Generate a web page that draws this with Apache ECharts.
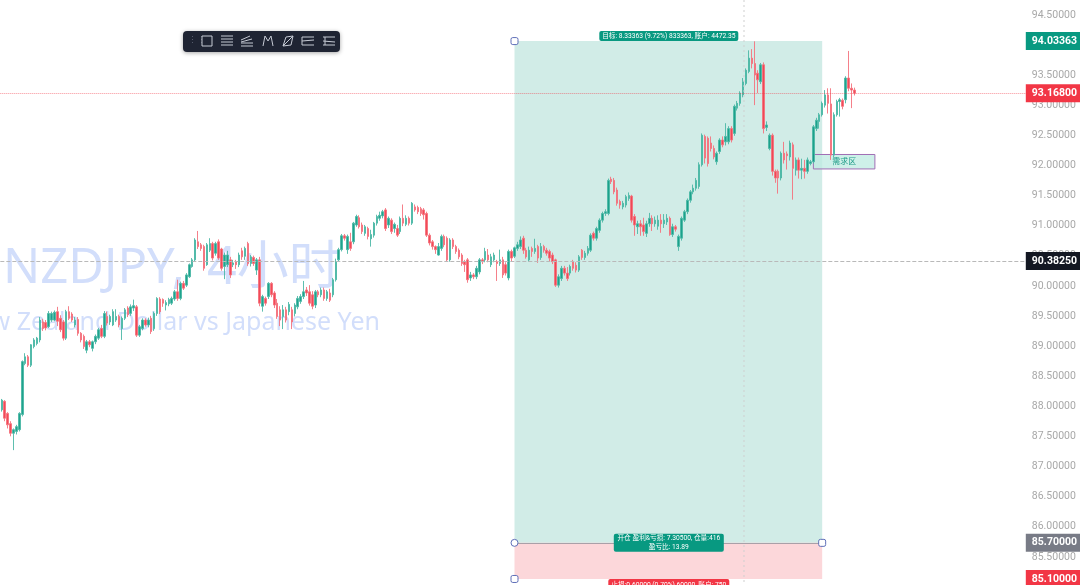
<!DOCTYPE html>
<html><head><meta charset="utf-8">
<style>html,body{margin:0;padding:0;background:#fff}#c{width:1080px;height:585px}</style>
<script src="https://cdn.jsdelivr.net/npm/echarts@6/dist/echarts.min.js"></script>
</head><body><div id="c"></div>
<script>
const opens=[87.91,88.05,87.85,87.68,87.52,87.55,87.58,87.83,88.68,88.79,88.65,88.96,89.01,89.07,89.37,89.36,89.29,89.4,89.4,89.54,89.43,89.37,89.1,89.54,89.5,89.32,89.41,89.18,89.13,88.9,89.04,88.93,89.04,89.1,89.26,89.13,89.46,89.37,89.32,89.4,89.46,89.26,89.43,89.6,89.51,89.6,89.62,89.15,89.26,89.4,89.32,89.43,89.26,89.51,89.75,89.74,89.65,89.67,89.68,89.75,89.87,89.76,90.01,89.98,90.12,90.29,90.4,90.7,90.65,90.62,90.32,90.56,90.67,90.51,90.7,90.58,90.29,90.32,90.4,90.32,90.37,90.32,90.55,90.46,90.67,90.34,90.44,90.23,90.4,
89.63,89.76,89.79,90.01,89.85,89.68,89.57,89.46,89.57,89.54,89.57,89.51,89.62,89.71,89.79,89.9,89.87,89.82,89.65,89.87,89.82,89.9,89.76,89.85,89.82,90.07,90.4,90.57,90.8,90.57,90.7,90.7,90.98,91.1,90.98,90.84,90.92,90.75,90.81,91.01,91.09,91.13,91.23,
90.98,91.06,90.92,90.92,90.87,91.09,90.99,91.09,91.01,91.28,91.27,91.25,91.23,91.17,90.81,90.7,90.62,90.48,90.59,90.79,90.76,90.4,90.73,90.62,90.56,90.48,90.37,90.4,90.1,90.15,90.12,90.2,90.4,90.4,90.48,90.32,90.4,90.37,90.34,90.4,90.32,90.1,90.54,90.46,
90.59,90.62,90.76,90.56,90.4,90.59,90.54,90.62,90.44,90.62,90.56,90.54,90.48,90.4,89.98,90.09,90.26,90.18,90.18,90.37,90.31,90.23,90.56,90.44,90.51,90.56,90.84,90.76,90.89,91.06,91.17,91.17,91.74,91.72,91.56,91.37,91.28,91.31,91.42,91.46,91.12,90.95,91.0,90.98,90.84,91.0,91.09,91.0,90.96,91.06,91.0,91.03,91.09,90.82,90.95,90.62,90.76,91.06,91.2,91.39,91.53,91.59,
91.62,91.98,92.45,92.42,92.34,92.25,92.03,92.2,92.39,92.36,92.36,92.58,92.5,92.92,93.0,93.14,93.33,93.53,93.75,93.66,93.5,93.36,93.64,92.6,92.25,92.47,91.87,91.87,91.76,92.17,92.16,92.11,92.31,91.89,92.06,91.89,91.92,91.87,92.0,92.03,
92.58,92.7,92.81,92.97,93.14,92.99,92.14,92.81,93.03,93.05,93.06,93.42,93.25,93.22];
const closes=[88.07,87.77,87.66,87.52,87.58,87.63,87.85,88.71,88.79,88.65,88.99,89.07,89.1,89.4,89.26,89.27,89.51,89.51,89.53,89.38,89.24,89.1,89.54,89.43,89.4,89.4,89.18,89.07,88.96,89.04,88.99,89.04,89.13,89.24,89.13,89.51,89.35,89.46,89.54,89.46,89.32,89.43,89.57,89.49,89.62,89.64,89.15,89.29,89.4,89.32,89.4,89.21,89.51,89.76,89.54,89.68,89.69,89.74,89.76,89.87,89.76,90.01,89.93,90.15,90.32,90.4,90.73,90.62,90.59,90.26,90.65,90.67,90.43,90.67,90.43,90.26,90.48,90.48,90.15,90.35,90.32,90.48,90.45,90.59,90.34,90.45,90.34,90.4,89.68,
89.79,89.68,90.01,89.82,89.65,89.46,89.4,89.57,89.4,89.66,89.37,89.65,89.76,89.79,89.87,89.85,89.68,89.63,89.87,89.82,89.9,89.76,89.87,89.73,90.07,90.37,90.57,90.8,90.76,90.79,90.59,91.01,91.12,90.95,90.87,90.95,90.79,90.82,91.01,91.12,91.14,91.2,90.92,
91.09,90.87,90.99,90.81,91.09,91.01,91.09,91.01,91.34,91.23,91.2,91.17,91.15,90.81,90.68,90.62,90.57,90.62,90.79,90.65,90.4,90.73,90.62,90.54,90.45,90.34,90.32,90.07,90.15,90.12,90.26,90.4,90.37,90.54,90.4,90.45,90.48,90.34,90.4,90.15,90.18,90.54,90.43,90.6,
90.65,90.73,90.56,90.45,90.56,90.54,90.59,90.43,90.62,90.56,90.51,90.43,90.37,89.98,90.12,90.26,90.18,90.09,90.29,90.26,90.23,90.45,90.44,90.51,90.59,90.81,90.76,90.92,91.06,91.17,91.2,91.72,91.7,91.53,91.34,91.31,91.34,91.45,91.47,91.06,90.98,91.0,90.95,90.87,91.0,91.09,91.0,91.06,91.06,91.0,91.06,91.09,90.82,90.95,90.91,90.79,91.09,91.2,91.39,91.53,91.59,91.72,
91.98,92.47,92.09,92.0,92.25,92.11,92.17,92.39,92.31,92.45,92.58,92.39,92.95,93.0,93.17,93.36,93.55,93.75,93.66,93.47,93.39,93.64,92.58,92.64,92.47,91.87,91.76,91.76,92.17,92.06,92.13,92.34,91.92,92.06,91.89,91.92,91.87,92.06,92.03,92.61,
92.72,92.81,93.0,93.14,93.0,92.14,92.81,93.03,93.06,92.95,93.42,93.25,93.22,93.168];
const lows=[87.88,87.72,87.6,87.47,87.24,87.5,87.55,87.8,88.65,88.62,88.62,88.93,88.98,89.03,89.22,89.23,89.27,89.37,89.38,89.3,89.2,89.06,89.07,89.4,89.37,89.28,89.14,89.03,88.92,88.85,88.95,88.88,89.0,89.07,89.1,89.1,89.31,89.32,89.3,89.37,89.28,89.07,89.4,89.45,89.47,89.55,89.12,89.12,89.23,89.29,89.28,89.17,89.22,89.47,89.5,89.62,89.56,89.63,89.65,89.72,89.72,89.73,89.9,89.95,90.1,90.27,90.37,90.58,90.55,90.22,90.3,90.53,90.39,90.47,90.4,90.22,90.08,90.28,90.1,90.28,90.25,90.28,90.4,90.4,90.3,90.29,90.3,90.15,89.63,
89.54,89.64,89.75,89.78,89.6,89.42,89.3,89.25,89.36,89.48,89.25,89.46,89.58,89.67,89.75,89.8,89.64,89.58,89.6,89.78,89.78,89.72,89.72,89.7,89.78,90.04,90.37,90.54,90.72,90.5,90.55,90.66,90.95,90.92,90.83,90.8,90.74,90.62,90.77,90.97,91.05,91.09,90.88,
90.93,90.83,90.85,90.78,90.83,90.96,90.96,90.97,90.98,91.2,91.16,91.13,91.07,90.78,90.64,90.57,90.5,90.47,90.55,90.61,90.38,90.37,90.58,90.5,90.41,90.3,90.2,90.02,90.05,90.08,90.08,90.16,90.33,90.36,90.36,90.28,90.36,90.05,90.3,90.1,90.14,90.06,90.38,90.43,
90.55,90.58,90.5,90.42,90.37,90.45,90.5,90.35,90.4,90.52,90.47,90.38,90.33,89.95,89.94,90.05,90.14,90.05,90.14,90.22,90.19,90.2,90.4,90.4,90.47,90.53,90.72,90.72,90.85,91.02,91.13,91.14,91.66,91.49,91.3,91.25,91.24,91.27,91.38,91.02,90.8,90.83,90.8,90.8,90.78,90.95,90.88,90.95,90.9,90.85,90.93,90.98,90.8,90.78,90.87,90.55,90.72,91.03,91.16,91.35,91.49,91.55,
91.58,91.95,92.0,91.95,92.2,92.07,91.98,92.16,92.27,92.3,92.32,92.35,92.46,92.88,92.96,93.1,93.3,93.5,93.58,92.97,93.17,93.32,92.5,92.54,92.22,91.8,91.68,91.5,91.72,92.0,91.9,92.05,91.4,91.8,91.75,91.74,91.75,91.83,91.97,92.0,
92.54,92.58,92.78,92.93,92.83,92.06,92.1,92.78,92.78,92.9,93.0,93.2,92.92,93.13];
const highs=[88.09,88.07,87.87,87.72,87.6,87.66,87.87,88.73,88.85,88.82,89.0,89.1,89.12,89.45,89.42,89.4,89.55,89.54,89.56,89.62,89.48,89.4,89.57,89.63,89.53,89.45,89.45,89.2,89.16,89.07,89.07,89.06,89.16,89.27,89.32,89.55,89.54,89.49,89.58,89.58,89.49,89.46,89.6,89.63,89.66,89.74,89.65,89.32,89.43,89.43,89.44,89.47,89.54,89.78,89.78,89.76,89.73,89.77,89.79,89.9,90.07,90.04,90.05,90.18,90.34,90.43,90.76,90.88,90.68,90.65,90.68,90.76,90.7,90.7,90.74,90.6,90.52,90.55,90.45,90.4,90.4,90.52,90.6,90.62,90.7,90.48,90.47,90.43,90.45,
89.82,89.79,90.03,90.03,89.88,89.75,89.63,89.65,89.62,89.7,89.62,89.68,89.8,89.83,90.05,89.95,89.98,89.88,89.9,89.9,89.94,89.94,89.9,89.92,90.1,90.42,90.6,90.83,90.83,90.82,90.85,91.03,91.15,91.14,91.02,90.98,90.95,90.9,91.03,91.15,91.2,91.23,91.26,
91.12,91.09,91.02,90.98,91.12,91.32,91.14,91.12,91.36,91.32,91.3,91.28,91.26,91.2,90.84,90.73,90.64,90.68,90.82,90.82,90.79,90.76,90.76,90.65,90.59,90.51,90.4,90.43,90.2,90.18,90.3,90.43,90.43,90.6,90.58,90.5,90.52,90.4,90.57,90.45,90.36,90.57,90.57,90.62,
90.7,90.79,90.8,90.6,90.62,90.62,90.75,90.65,90.68,90.65,90.6,90.57,90.52,90.42,90.16,90.3,90.3,90.28,90.32,90.4,90.36,90.48,90.58,90.55,90.63,90.84,90.87,90.95,91.09,91.2,91.24,91.75,91.78,91.76,91.6,91.4,91.38,91.48,91.52,91.48,91.16,91.05,91.06,91.1,91.05,91.18,91.14,91.12,91.14,91.16,91.16,91.16,91.12,91.0,90.98,90.82,91.12,91.23,91.42,91.56,91.65,91.76,
92.02,92.5,92.48,92.45,92.45,92.3,92.2,92.42,92.45,92.67,92.62,92.62,92.98,93.04,93.2,93.42,93.58,93.88,93.9,94.03,93.55,93.67,93.68,92.7,92.5,92.5,91.9,91.9,92.2,92.36,92.2,92.38,92.35,92.1,92.1,92.08,92.06,92.1,92.06,92.64,
92.76,92.84,93.03,93.22,93.25,93.25,92.85,93.06,93.09,93.08,93.45,93.87,93.33,93.26];
const tickMin=85,tickMax=94.716,tickStep=0.5;
const priceTags=[94.03363,93.168,90.3825,85.7,85.1];
const entry=85.7,target=94.03363,stop=85.1;
const demandTop=92.15,demandBottom=91.91;
const targetText='目标: 8.33363 (9.72%) 833363, 账户: 4472.35';
const entryText='开仓 盈利&亏损: 7.30500, 仓量:416\n盈亏比: 13.89';
const stopText='止损:0.60000 (0.70%) 60000, 账户: 750';
const demandText='需求区';
const watermarkPair='NZDJPY,',watermarkTime='4小时',watermark2='New Zealand Dollar vs Japanese Yen';
const UP='#089981',DOWN='#f23645',WICK_UP='#4db8a6',WICK_DOWN='#f4727d';
const cats=[];for(let i=0;i<350;i++)cats.push(String(i));
const candleData=opens.map((o,i)=>[o,closes[i],lows[i],highs[i]]);
const start=175,end=280,mid=228;
const tagColors=[UP,DOWN,'#131722','#787b86',DOWN];
const hidden={color:'rgba(0,0,0,0)',width:0};
const lineStyles=[hidden,{color:'rgba(242,54,69,.55)',type:'dotted',width:1},{color:'#b9b9b9',type:'dashed',width:1},hidden,hidden];
const CJK='Roboto,"Noto Sans CJK SC",sans-serif';
function handle(x,y,sym){return{coord:[x,y],symbol:sym,symbolSize:7,itemStyle:{color:'#fff',borderColor:'#5f6fb8',borderWidth:1},label:{show:false}};}
function tip(x,y,t,bg,w,h,lh){return{coord:[x,y],symbol:'rect',symbolSize:1,itemStyle:{color:'rgba(0,0,0,0)'},label:{show:true,position:'inside',offset:[-1,0],formatter:t,color:'#fff',fontSize:6.7,fontFamily:CJK,backgroundColor:bg,borderRadius:2,width:w,height:h,lineHeight:lh,align:'center',verticalAlign:'middle',overflow:'none'}};}
function ico(cx,paths){return paths.map(p=>({type:'polyline',shape:{points:p.map(q=>[cx+q[0],41+q[1]])},style:{stroke:'#c6cad4',lineWidth:1,fill:null}}));}
const icons=[].concat(
 ico(207,[[[-5,-5],[5,-5],[5,5],[-5,5],[-5,-5]]]),
 ico(227,[[[-6,-5],[6,-5]],[[-6,-2],[6,-2]],[[-6,1],[6,1]],[[-6,4],[6,4]]]),
 ico(247,[[[-6,5],[6,5]],[[-6,2],[6,2]],[[-6,-1],[3,-5]],[[-6,1],[5,-2]]]),
 ico(268,[[[-5,5],[-3,-5],[0,0],[3,-5],[5,5]]]),
 ico(288,[[[-5,5],[-2,-4],[5,-5],[3,4],[-5,5],[5,-5]]]),
 ico(308,[[[-6,-4],[6,-4]],[[-6,-4],[-6,4],[6,4]],[[-6,0],[6,-1]]]),
 ico(329,[[[-6,-4],[6,-4]],[[-6,4],[6,4]],[[-4,-4],[-4,4]],[[-6,0],[6,1]]])
);
const chart=echarts.init(document.getElementById('c'),null,{renderer:'canvas'});
chart.setOption({
 animation:false,
 backgroundColor:'#fff',
 grid:{left:0.3,right:54.2,top:0,bottom:0,containLabel:false},
 xAxis:{type:'category',data:cats,boundaryGap:true,show:false},
 yAxis:{type:'value',position:'right',min:tickMin,max:tickMax,interval:tickStep,scale:true,
  axisLine:{show:false},axisTick:{show:false},splitLine:{show:false},
  axisLabel:{show:true,showMinLabel:false,showMaxLabel:false,margin:6,verticalAlign:'top',lineHeight:4,color:'#a8a8a8',fontSize:10.5,fontFamily:'Roboto',formatter:v=>v.toFixed(5)}},
 graphic:[
  {type:'text',z:0,x:3,y:269,style:{text:watermarkPair,font:'49px "Noto Sans"',fill:'#d2defb',verticalAlign:'middle'}},
  {type:'text',z:0,x:207,y:269,style:{text:watermarkTime,font:'52px "Noto Sans","Noto Sans CJK SC"',fill:'#d2defb',verticalAlign:'middle'}},
  {type:'text',z:0,x:380,y:323,style:{text:watermark2,font:'25px "Noto Sans"',fill:'#d2defb',align:'right',verticalAlign:'middle'}},
  {type:'line',z:5,shape:{x1:744,y1:0,x2:744,y2:585},style:{stroke:'#cfcfcf',lineWidth:1,lineDash:[2,3]}},
  {type:'group',z:10,children:[
   {type:'rect',shape:{x:183,y:31,width:157,height:21,r:4},style:{fill:'#1f2433',shadowBlur:4,shadowColor:'rgba(0,0,0,.35)',shadowOffsetY:1}},
   {type:'text',x:188,y:36,style:{text:'⋮⋮',font:'9px Roboto',fill:'#5a6070'}}
  ].concat(icons)}
 ],
 series:[{
  type:'candlestick',data:candleData,barWidth:2,z:3,
  itemStyle:{color:UP,color0:DOWN,borderColor:WICK_UP,borderColor0:WICK_DOWN,borderWidth:1,opacity:.9},
  markArea:{silent:true,z:1,data:[
   [{xAxis:start,yAxis:target,itemStyle:{color:'rgba(8,153,129,0.19)'}},{xAxis:end,yAxis:entry}],
   [{xAxis:start,yAxis:entry,itemStyle:{color:'rgba(242,54,69,0.2)'}},{xAxis:end,yAxis:stop}],
   [{xAxis:277,yAxis:demandTop,itemStyle:{color:'rgba(190,235,225,0.75)',borderColor:'#a06fb5',borderWidth:1},label:{show:true,position:'inside',formatter:demandText,color:'#1f9c88',fontSize:8,fontFamily:CJK}},{xAxis:298,yAxis:demandBottom}]
  ]},
  markLine:{silent:true,symbol:'none',z:4,precision:5,
   data:priceTags.map((v,i)=>({yAxis:v,lineStyle:lineStyles[i],label:{show:true,position:'end',distance:0,formatter:v.toFixed(5),color:'#fff',fontSize:10.5,fontWeight:'bold',fontFamily:'Roboto',backgroundColor:tagColors[i],width:49,height:18,lineHeight:18,padding:[0,0,0,6],align:'left',verticalAlign:'middle'}}))
    .concat([[{coord:[start,entry],lineStyle:{color:'#a9a0a8',type:'solid',width:1},label:{show:false}},{coord:[end,entry]}]])},
  markPoint:{silent:true,z:6,data:[
   handle(start,target,'roundRect'),handle(start,entry,'circle'),handle(end,entry,'roundRect'),handle(start,stop,'roundRect'),
   tip(mid,94.118,targetText,UP,139,10,10),
   tip(mid,85.7,entryText,UP,110,18,9),
   tip(mid,85.0,stopText,DOWN,121,12,12)
  ]}
 }]
});
</script></body></html>
